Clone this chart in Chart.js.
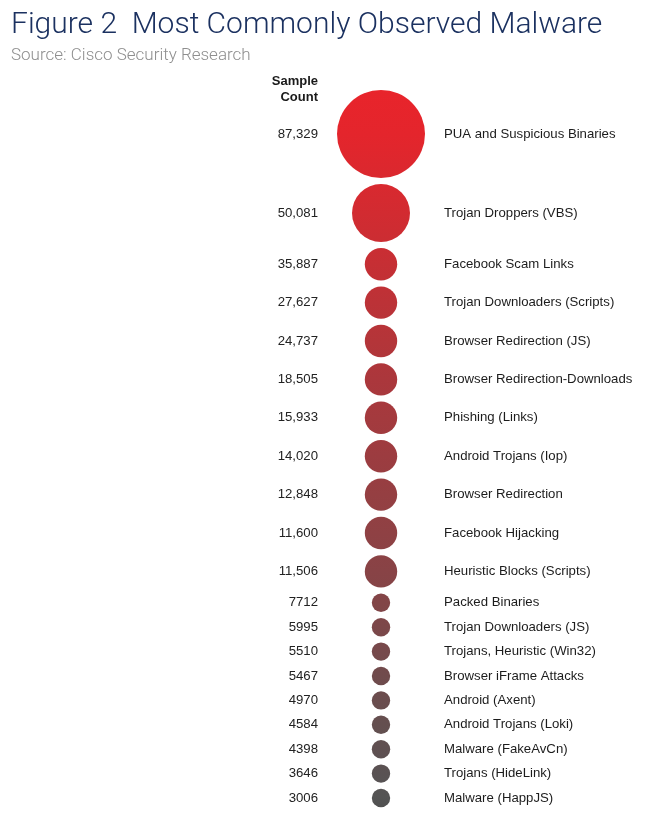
<!DOCTYPE html>
<html>
<head>
<meta charset="utf-8">
<script src="https://cdn.jsdelivr.net/npm/chart.js@4.4.1/dist/chart.umd.min.js"></script>
<style>
  html, body { margin: 0; padding: 0; background: #ffffff; }
  #wrap { width: 650px; height: 813px; }
</style>
</head>
<body>
<div id="wrap"><canvas id="chart" width="650" height="813"></canvas></div>
<script>
// ---- data ----
const categories = [
  "PUA and Suspicious Binaries",
  "Trojan Droppers (VBS)",
  "Facebook Scam Links",
  "Trojan Downloaders (Scripts)",
  "Browser Redirection (JS)",
  "Browser Redirection-Downloads",
  "Phishing (Links)",
  "Android Trojans (Iop)",
  "Browser Redirection",
  "Facebook Hijacking",
  "Heuristic Blocks (Scripts)",
  "Packed Binaries",
  "Trojan Downloaders (JS)",
  "Trojans, Heuristic (Win32)",
  "Browser iFrame Attacks",
  "Android (Axent)",
  "Android Trojans (Loki)",
  "Malware (FakeAvCn)",
  "Trojans (HideLink)",
  "Malware (HappJS)"
];
const sampleCounts = [
  87329, 50081, 35887, 27627, 24737, 18505, 15933, 14020, 12848, 11600,
  11506, 7712, 5995, 5510, 5467, 4970, 4584, 4398, 3646, 3006
];
const headerLines = ["Sample", "Count"];
const titleText = "Figure 2  Most Commonly Observed Malware";
const subtitleText = "Source: Cisco Security Research";

// ---- presentation helpers ----
const CENTER_X = 381;     // pixel column of the bubbles
const FIRST_Y = 134;      // pixel row of the first bubble
const ROW_GAP = 6.0;      // space between neighbouring bubbles
const TEXT_OFFSET = 63;   // distance from bubble centre to the text columns

function radiusFor(v) {
  if (v > 60000) return 44;
  if (v > 40000) return 29;
  if (v > 10000) return 16.2;
  return 9.2;
}
function formatCount(v) {
  return v >= 10000 ? v.toLocaleString('en-US') : String(v);
}
function colorFor(i, n) {
  const a = [228, 37, 44], b = [84, 84, 84];
  const t = Math.pow(i / (n - 1), 0.7);
  const c = a.map((x, k) => Math.round(x + (b[k] - x) * t));
  return `rgb(${c[0]},${c[1]},${c[2]})`;
}

const radii = sampleCounts.map(radiusFor);
const rowPos = [];
radii.forEach((r, i) => {
  rowPos.push(i === 0 ? 0 : rowPos[i - 1] + radii[i - 1] + r + ROW_GAP);
});

const points = sampleCounts.map((v, i) => ({ x: 0, y: rowPos[i], r: radii[i] }));

// one vertical gradient through all rows: colour follows the row order
let gradCache = null, gradKey = '';
function rowGradient(chart) {
  const ys = chart.scales.y;
  const n = sampleCounts.length;
  const p0 = ys.getPixelForValue(rowPos[0]);
  const p1 = ys.getPixelForValue(rowPos[n - 1]);
  const key = p0 + ':' + p1;
  if (gradCache && gradKey === key) return gradCache;
  const top = p0 - radii[0], bottom = p1 + radii[n - 1];
  const g = chart.ctx.createLinearGradient(0, top, 0, bottom);
  g.addColorStop(0, 'rgb(232,36,43)');
  rowPos.forEach((y, i) => {
    const p = ys.getPixelForValue(y);
    g.addColorStop((p - top) / (bottom - top), colorFor(i, n));
  });
  g.addColorStop(1, 'rgb(80,80,80)');
  gradCache = g; gradKey = key;
  return g;
}

const FONT = "'Liberation Sans', Arial, sans-serif";

const textPlugin = {
  id: 'rowText',
  afterDatasetsDraw(chart) {
    const ctx = chart.ctx;
    const meta = chart.getDatasetMeta(0);
    ctx.save();
    ctx.textBaseline = 'middle';
    meta.data.forEach((el, i) => {
      ctx.font = `13.2px ${FONT}`;
      ctx.fillStyle = '#222222';
      ctx.textAlign = 'right';
      ctx.fillText(formatCount(sampleCounts[i]), el.x - TEXT_OFFSET, el.y);
      ctx.fillStyle = '#1c1c1c';
      ctx.textAlign = 'left';
      ctx.fillText(categories[i], el.x + TEXT_OFFSET, el.y);
    });
    const first = meta.data[0];
    ctx.font = `bold 13px ${FONT}`;
    ctx.fillStyle = '#1a1a1a';
    ctx.textAlign = 'right';
    ctx.fillText(headerLines[0], first.x - TEXT_OFFSET, first.y - 53);
    ctx.fillText(headerLines[1], first.x - TEXT_OFFSET, first.y - 37);
    ctx.restore();
  }
};

const chart = new Chart(document.getElementById('chart'), {
  type: 'bubble',
  data: {
    datasets: [{
      label: 'Sample Count',
      data: points,
      backgroundColor: ctx => (ctx.chart.chartArea && ctx.chart.scales.y)
        ? rowGradient(ctx.chart)
        : colorFor(ctx.dataIndex, sampleCounts.length),
      borderWidth: 0,
      hoverRadius: 0,
      hoverBorderWidth: 0
    }]
  },
  options: {
    responsive: false,
    animation: false,
    events: [],
    layout: { autoPadding: false, padding: { left: 11, right: 0, top: 0, bottom: 0 } },
    plugins: {
      legend: { display: false },
      tooltip: { enabled: false },
      title: {
        display: true,
        text: titleText,
        align: 'start',
        color: '#1b3160',
        font: { family: "Roboto, 'Liberation Sans', sans-serif", size: 30, weight: '300' },
        padding: { top: 7, bottom: 0 }
      },
      subtitle: {
        display: true,
        text: subtitleText,
        align: 'start',
        color: '#8e8e8e',
        font: { family: "Roboto, 'Liberation Sans', sans-serif", size: 17, weight: '300' },
        padding: { top: 3, bottom: 4 }
      }
    },
    scales: {
      x: { type: 'linear', display: false },
      y: { type: 'linear', display: false, reverse: true }
    }
  },
  plugins: [textPlugin]
});

// map one data unit to one pixel, anchored on the first bubble
(function fit() {
  const a = chart.chartArea;
  chart.options.scales.x.min = a.left - CENTER_X;
  chart.options.scales.x.max = a.right - CENTER_X;
  chart.options.scales.y.min = a.top - FIRST_Y;
  chart.options.scales.y.max = a.bottom - FIRST_Y;
  chart.update('none');
})();
</script>
</body>
</html>
